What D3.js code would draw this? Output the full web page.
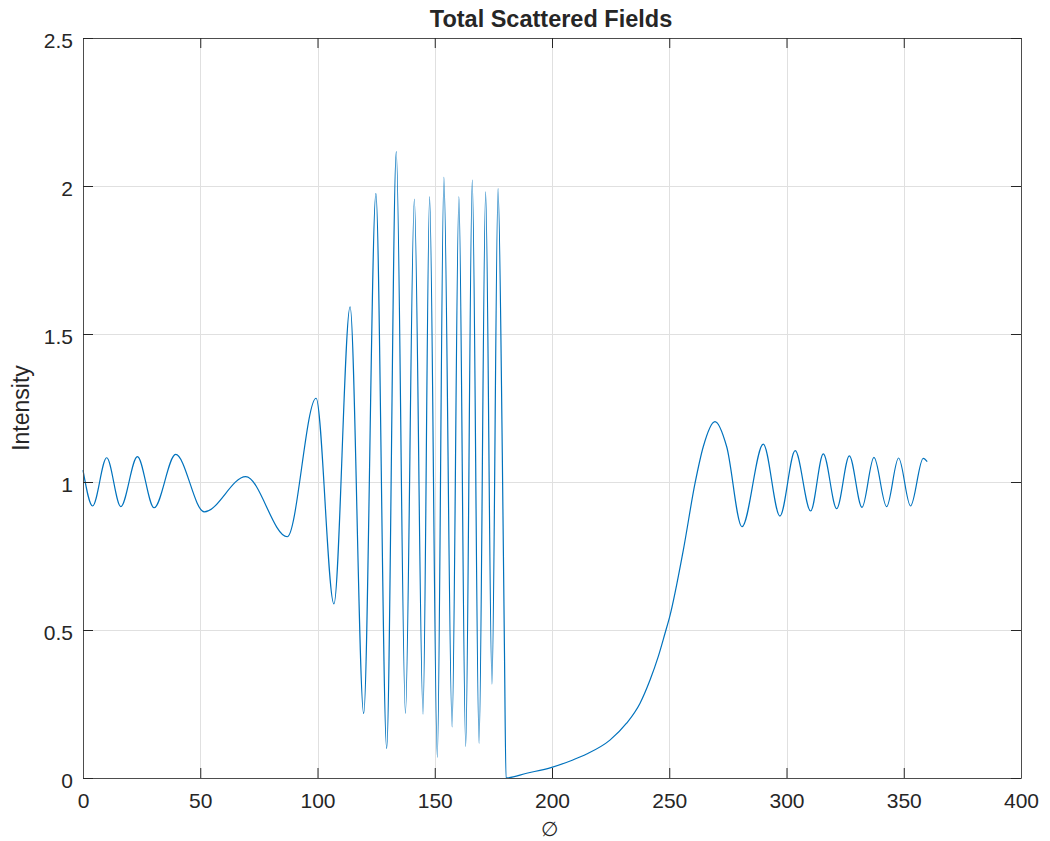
<!DOCTYPE html>
<html>
<head>
<meta charset="utf-8">
<script src="https://cdn.jsdelivr.net/npm/d3@7"></script>
<style>
  html, body { margin: 0; padding: 0; background: #fff; }
  svg { display: block; }
  text { font-family: "Liberation Sans", Arial, Helvetica, sans-serif; fill: #262626; }
</style>
</head>
<body>
<svg id="chart" width="1050" height="841"></svg>
<script>
// ---- data ----
const phi = [0, 4.1, 10.1, 16.1, 23.2, 30.3, 39.5, 51.7, 69.4, 87.1, 99.4, 107.0, 113.9, 119.7, 124.9,
  129.5, 133.6, 137.5, 141.3, 145.0, 147.8, 151.1, 153.9, 157.4, 160.3, 163.2, 166.0, 168.9, 171.7,
  174.4, 177.0, 178.8, 179.7, 180.4, 189.2, 199.9, 208.9, 214.8, 224.7, 231.8, 237.5, 241.8, 245.3,
  248.2, 250.2, 256.0, 261.0, 264.5, 269.5, 274.5, 281.0, 290.1, 297.2, 303.7, 310.3, 315.7, 321.4,
  326.8, 332.2, 337.3, 342.7, 347.8, 352.9, 358.3, 360];
const intensity = [1.04, 0.919, 1.082, 0.917, 1.086, 0.913, 1.093, 0.899, 1.018, 0.815, 1.283, 0.588,
  1.592, 0.218, 1.975, 0.100, 2.116, 0.218, 1.956, 0.216, 1.964, 0.070, 2.029, 0.173, 1.964, 0.106,
  2.020, 0.117, 1.980, 0.317, 1.991, 1.10, 0.45, 0.0, 0.016, 0.036, 0.061, 0.081, 0.128, 0.185, 0.252,
  0.331, 0.410, 0.489, 0.545, 0.770, 0.996, 1.119, 1.204, 1.119, 0.849, 1.128, 0.885, 1.106, 0.902,
  1.095, 0.910, 1.088, 0.914, 1.083, 0.917, 1.081, 0.919, 1.080, 1.069];
const xTicks = [0, 50, 100, 150, 200, 250, 300, 350, 400];
const yTicks = [0, 0.5, 1, 1.5, 2, 2.5];
const titleText = "Total Scattered Fields";
const xLabel = "\u2205";
const yLabel = "Intensity";

// ---- layout ----
const L = 83, R = 1021, T = 38, B = 778;
const svg = d3.select("#chart");
const x = d3.scaleLinear().domain([0, 400]).range([L, R]);
const y = d3.scaleLinear().domain([0, 2.5]).range([B, T]);

// grid
const grid = svg.append("g").attr("stroke", "#e0e0e0").attr("stroke-width", 1);
grid.selectAll(".gx").data(xTicks.slice(1, -1)).join("line")
  .attr("x1", d => Math.round(x(d)) + 0.5).attr("x2", d => Math.round(x(d)) + 0.5)
  .attr("y1", T).attr("y2", B);
grid.selectAll(".gy").data(yTicks.slice(1, -1)).join("line")
  .attr("y1", d => Math.round(y(d)) + 0.5).attr("y2", d => Math.round(y(d)) + 0.5)
  .attr("x1", L).attr("x2", R);

// line
const data = phi.map((p, i) => [p, intensity[i]]);
svg.append("path")
  .datum(data)
  .attr("fill", "none")
  .attr("stroke", "#0072BD")
  .attr("stroke-width", 1.2)
  .attr("stroke-linejoin", "round")
  .attr("d", d3.line().x(d => x(d[0])).y(d => y(d[1])).curve(d3.curveMonotoneX));

// axes
function styleAxis(g) {
  g.select(".domain").attr("stroke", "#4d4d4d").attr("stroke-width", 1);
  g.selectAll(".tick line").attr("stroke", "#262626");
  g.selectAll(".tick text").attr("fill", "#262626").style("font-size", "21px")
    .style("font-family", '"Liberation Sans", Arial, Helvetica, sans-serif');
}
const xAxis = svg.append("g").attr("transform", `translate(0,${B})`)
  .call(d3.axisBottom(x).tickValues(xTicks).tickSizeInner(-10).tickSizeOuter(0).tickPadding(15));
styleAxis(xAxis);
const xAxisTop = svg.append("g").attr("transform", `translate(0,${T})`)
  .call(d3.axisTop(x).tickValues(xTicks).tickSizeInner(-10).tickSizeOuter(0).tickFormat(""));
styleAxis(xAxisTop);
const yAxis = svg.append("g").attr("transform", `translate(${L},0)`)
  .call(d3.axisLeft(y).tickValues(yTicks).tickSizeInner(-10).tickSizeOuter(0).tickPadding(10)
    .tickFormat(d3.format("")));
styleAxis(yAxis);
yAxis.selectAll(".tick text").attr("dy", "0.43em");
const yAxisRight = svg.append("g").attr("transform", `translate(${R},0)`)
  .call(d3.axisRight(y).tickValues(yTicks).tickSizeInner(-10).tickSizeOuter(0).tickFormat(""));
styleAxis(yAxisRight);

// labels
svg.append("text").attr("x", (L + R) / 2 - 1).attr("y", 27).attr("text-anchor", "middle")
  .style("font-size", "23.5px").style("font-weight", "bold").attr("fill", "#000").text(titleText);
svg.append("text").attr("transform", `translate(29,${(T + B) / 2}) rotate(-90)`)
  .attr("text-anchor", "middle").style("font-size", "23px").text(yLabel);
svg.append("text").attr("x", (L + R) / 2 - 3).attr("y", 836).attr("text-anchor", "middle")
  .style("font-size", "20px").text(xLabel);
</script>
</body>
</html>
